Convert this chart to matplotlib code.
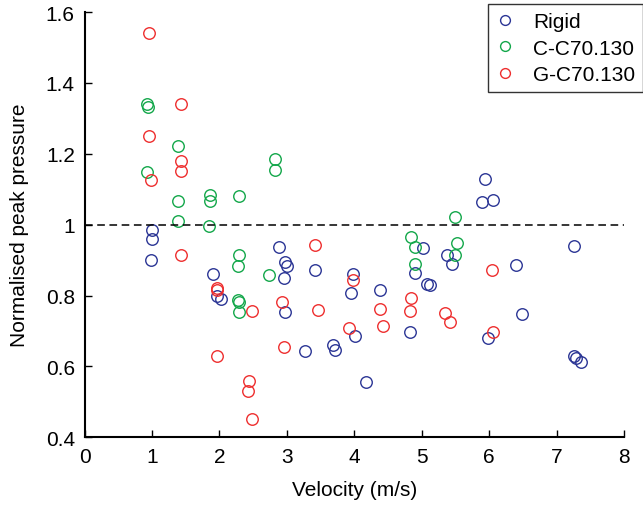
import matplotlib
matplotlib.use("Agg")
import matplotlib.pyplot as plt

plt.rcParams['font.family'] = ['Liberation Sans', 'DejaVu Sans']

rigid_v = [1.00, 1.00, 0.99, 1.91, 1.97, 2.02, 2.88, 2.97, 3.00, 2.96, 2.97, 3.27, 3.41,
           3.69, 3.72, 3.98, 3.95, 4.01, 4.17, 4.38, 4.83, 4.90, 5.02, 5.08, 5.12, 5.37,
           5.45, 5.94, 5.89, 6.06, 6.40, 6.49, 5.99, 7.26, 7.26, 7.29, 7.36]
rigid_p = [0.985, 0.96, 0.90, 0.86, 0.80, 0.79, 0.937, 0.895, 0.884, 0.85, 0.753, 0.642, 0.872,
           0.659, 0.645, 0.861, 0.807, 0.687, 0.557, 0.815, 0.696, 0.864, 0.935, 0.832, 0.829, 0.914,
           0.889, 1.13, 1.063, 1.069, 0.886, 0.747, 0.68, 0.94, 0.63, 0.625, 0.613]

cc_v = [0.92, 0.94, 0.92, 1.39, 1.39, 1.39, 1.86, 1.86, 1.84, 2.29, 2.82, 2.82, 2.29, 2.28,
        2.28, 2.29, 2.29, 2.73, 5.50, 4.84, 4.90, 4.90, 5.53, 5.50]
cc_p = [1.341, 1.332, 1.15, 1.222, 1.068, 1.011, 1.085, 1.066, 0.997, 1.08, 1.185, 1.153, 0.915, 0.883,
        0.787, 0.783, 0.753, 0.858, 1.023, 0.966, 0.938, 0.889, 0.949, 0.915]

gc_v = [0.95, 1.43, 0.95, 1.43, 1.43, 0.98, 1.43, 1.97, 1.97, 1.97, 2.49, 2.44, 2.42, 2.48,
        3.42, 2.93, 3.46, 2.96, 3.98, 3.92, 4.38, 4.42, 4.84, 4.83, 5.35, 5.42, 6.04, 6.06]
gc_p = [1.54, 1.341, 1.25, 1.179, 1.151, 1.125, 0.915, 0.821, 0.815, 0.628, 0.755, 0.56, 0.53, 0.451,
        0.943, 0.781, 0.758, 0.656, 0.844, 0.707, 0.761, 0.713, 0.793, 0.756, 0.75, 0.724, 0.872, 0.696]

series_names = ["Rigid", "C-C70.130", "G-C70.130"]
xticks = [0, 1, 2, 3, 4, 5, 6, 7, 8]
yticks = [0.4, 0.6, 0.8, 1.0, 1.2, 1.4, 1.6]
ytick_labels = ["0.4", "0.6", "0.8", "1", "1.2", "1.4", "1.6"]

fig = plt.figure(figsize=(6.43, 5.06), dpi=100)
ax = fig.add_axes([0.1315, 0.134, 0.839, 0.840])

colors = ["#2b3595", "#13a74a", "#ee2e2e"]
for (xv, yv), c, name in zip([(rigid_v, rigid_p), (cc_v, cc_p), (gc_v, gc_p)], colors, series_names):
    ax.plot(xv, yv, linestyle='none', marker='o', markersize=8.3, markerfacecolor='none',
            markeredgecolor=c, markeredgewidth=1.0, label=name)

ax.plot([0, 8], [1, 1], color='black', linestyle=(0, (5, 3)), linewidth=1.1)

ax.set_xlim(0, 8)
ax.set_ylim(0.4, 1.6)
ax.set_xticks(xticks)
ax.set_xticklabels([str(t) for t in xticks])
ax.set_yticks(yticks)
ax.set_yticklabels(ytick_labels)
ax.tick_params(direction='in', length=5, width=1, labelsize=15, pad=7)
for s in ['top', 'right']:
    ax.spines[s].set_visible(False)
for s in ['left', 'bottom']:
    ax.spines[s].set_linewidth(1.5)

ax.set_xlabel("Velocity (m/s)", fontsize=15, labelpad=10)
ax.set_ylabel("Normalised peak pressure", fontsize=15, labelpad=12)

leg = fig.legend(loc='upper left', bbox_to_anchor=(0.759, 0.990), fontsize=15, frameon=True,
                 fancybox=False, edgecolor='black', handlelength=0.8, handletextpad=0.95,
                 borderpad=0.4, labelspacing=0.35, markerscale=0.85, borderaxespad=0)
leg.get_frame().set_linewidth(1.0)

fig.savefig("out.png", dpi=100)
